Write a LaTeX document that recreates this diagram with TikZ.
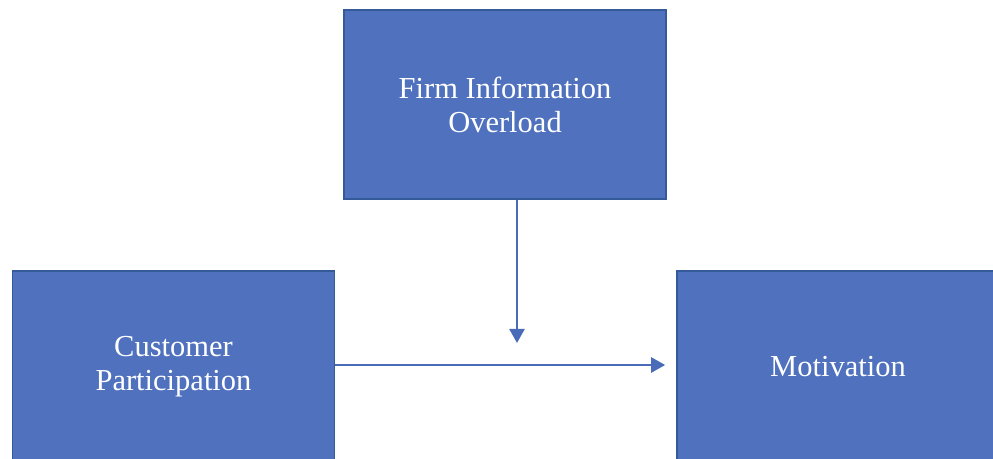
\documentclass[tikz,border=0pt]{standalone}
\usepackage{fontspec}
\setmainfont{Liberation Serif}
\usepackage{tikz}
\usetikzlibrary{positioning, arrows.meta}
\usepackage{xcolor}
\definecolor{boxfill}{HTML}{4F71BE}
\definecolor{boxedge}{HTML}{355A9A}
\definecolor{linkblue}{HTML}{4A6CB8}
\newcommand{\boxfont}{\fontsize{30.5}{34}\selectfont}

\begin{document}
\begin{tikzpicture}[x=1pt, y=1pt, >={Triangle[length=14pt, width=15pt]},
    construct/.style={draw=boxedge, line width=1.6pt, fill=boxfill,
      minimum width=322pt, text=white, font=\boxfont, align=center}]
        \useasboundingbox (0,0) rectangle (993,458);
        % Moderator on top
        \node[construct, minimum height=189pt] (fio) at (505, 353.5)
          {Firm Information\\Overload};
        % Independent and dependent variables (run off the bottom edge)
        \node[construct, minimum height=192pt] (cp) at (173.5, 91)
          {Customer\\Participation};
        \node[construct, minimum height=192pt] (mot) at (838, 91)
          {Motivation};
        % Moderating arrow onto the main path
        \coordinate (hit) at (517, 115);
        \draw[->, line width=2.4pt, linkblue] (fio.south -| hit) -- (hit);
        % Main path
        \draw[->, line width=2.4pt, linkblue, shorten >=11pt]
          (cp.east |- 0,93) -- (mot.west |- 0,93);
      \end{tikzpicture}
\end{document}
